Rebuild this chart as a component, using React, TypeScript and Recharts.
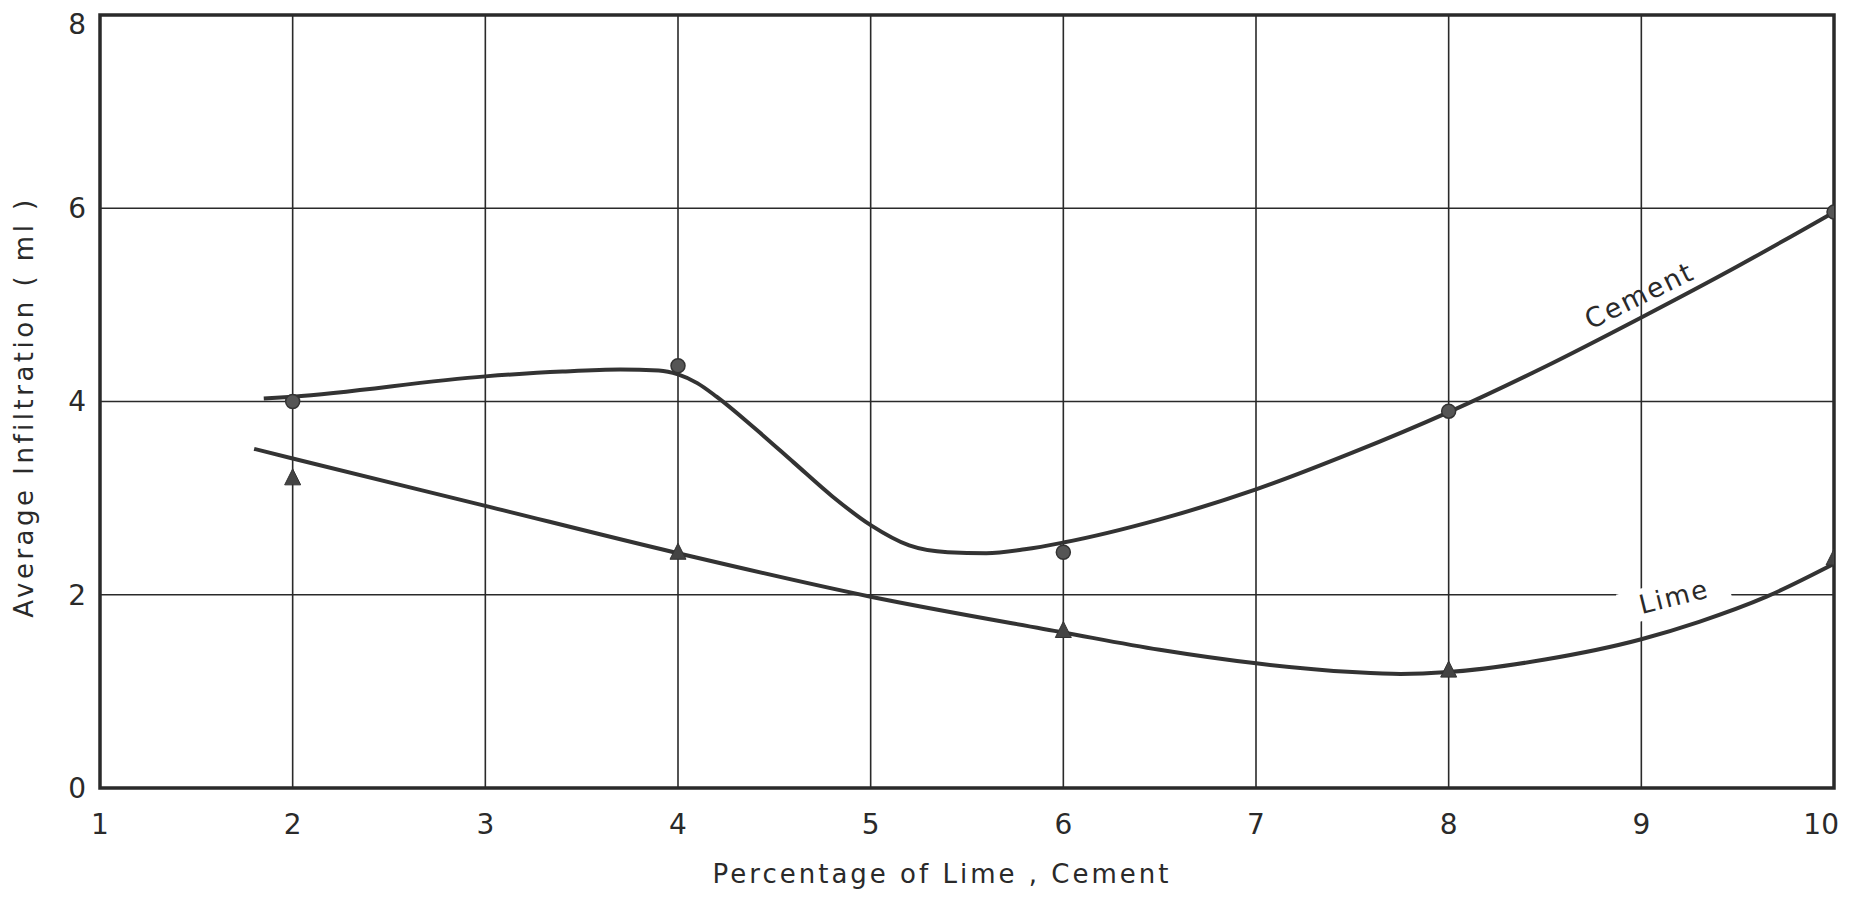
import React from 'react';
import {
  ComposedChart,
  Line,
  Scatter,
  XAxis,
  YAxis,
  CartesianGrid,
  ReferenceArea,
  ReferenceDot,
  Label,
} from 'recharts';

// x ticks and y ticks
const xTicks = [1, 2, 3, 4, 5, 6, 7, 8, 9, 10];
const yTicks = [0, 2, 4, 6, 8];

// measured points
const pctX = [2, 4, 6, 8, 10];
const cementPts = [4.0, 4.37, 2.44, 3.9, 5.96];
const limePts = [3.21, 2.44, 1.63, 1.22, 2.38];

// hand drawn fitted curves
const cementCurveX = [1.85, 2, 3, 3.4, 3.7, 3.9, 4, 4.1, 4.2, 4.4, 4.6, 4.8, 5, 5.2, 5.4, 5.6, 5.8, 6, 6.5, 7, 7.5, 8, 8.5, 9, 9.5, 10];
const cementCurveY = [4.03, 4.05, 4.26, 4.31, 4.33, 4.32, 4.28, 4.19, 4.05, 3.72, 3.37, 3.02, 2.72, 2.51, 2.44, 2.43, 2.47, 2.54, 2.78, 3.09, 3.47, 3.89, 4.36, 4.87, 5.4, 5.96];
const limeCurveX = [1.8, 2, 3, 4, 5, 6, 6.5, 7, 7.5, 7.75, 8, 8.5, 9, 9.3, 9.65, 10];
const limeCurveY = [3.51, 3.41, 2.92, 2.43, 1.98, 1.61, 1.43, 1.29, 1.2, 1.18, 1.2, 1.33, 1.54, 1.72, 1.98, 2.32];

const ink = '#2a2a2a';
const font = '"DejaVu Sans", sans-serif';

const zip = (xs: number[], ys: number[]) => xs.map((x, i) => ({ x, y: ys[i] }));

const cementCurve = zip(cementCurveX, cementCurveY);
const limeCurve = zip(limeCurveX, limeCurveY);
const cementData = zip(pctX, cementPts);
const limeData = zip(pctX, limePts);

const Dot = (p: any) => <circle cx={p.cx} cy={p.cy} r={7} fill="#555" stroke="#333" strokeWidth={1.5} />;

const Tri = (p: any) => (
  <polygon
    points={`${p.cx},${p.cy - 9} ${p.cx - 8},${p.cy + 7} ${p.cx + 8},${p.cy + 7}`}
    fill="#444"
    stroke="#333"
    strokeWidth={1}
  />
);

const curveLabel = (text: string, angle: number, w: number, size: number) => (p: any) => (
  <g transform={`rotate(${angle} ${p.cx} ${p.cy})`}>
    {w > 0 && <rect x={p.cx - w / 2} y={p.cy - 16} width={w} height={32} fill="#fff" />}
    <text
      x={p.cx}
      y={p.cy}
      textAnchor="middle"
      dominantBaseline="central"
      fontFamily={font}
      fontSize={size}
      letterSpacing={2}
      fill={ink}
    >
      {text}
    </text>
  </g>
);

const XTick = (p: any) => {
  const last = p.payload.value === 10;
  return (
    <text
      x={last ? p.x + 5 : p.x}
      y={p.y}
      dy="0.71em"
      textAnchor={last ? 'end' : 'middle'}
      fontFamily={font}
      fontSize={28}
      fill={ink}
    >
      {p.payload.value}
    </text>
  );
};

export default function App() {
  const tickStyle = { fontSize: 28, fill: ink, fontFamily: font };
  return (
    <div style={{ width: 1844, height: 884 }}>
      <ComposedChart width={1844} height={884} margin={{ top: 7, right: 18, left: 0, bottom: 0 }}>
        <CartesianGrid stroke={ink} strokeWidth={1.6} />
        <XAxis
          type="number"
          dataKey="x"
          domain={[1, 10]}
          ticks={xTicks}
          allowDataOverflow
          height={104}
          tickSize={0}
          tickMargin={26}
          tickLine={false}
          axisLine={false}
          tick={XTick}
        >
          <Label
            content={() => (
              <text
                x={934}
                y={866}
                textAnchor="middle"
                dominantBaseline="central"
                fontFamily={font}
                fontSize={26}
                letterSpacing={3}
                fill={ink}
              >
                Percentage of  Lime ,  Cement
              </text>
            )}
          />
        </XAxis>
        <YAxis
          type="number"
          dataKey="y"
          domain={[0, 8]}
          ticks={yTicks}
          width={92}
          tickSize={0}
          tickMargin={14}
          tickLine={false}
          axisLine={false}
          tick={tickStyle}
        >
          <Label
            content={() => (
              <text
                x={16}
                y={399}
                transform="rotate(-90 16 399)"
                textAnchor="middle"
                dominantBaseline="central"
                fontFamily={font}
                fontSize={26}
                letterSpacing={3.5}
                fill={ink}
              >
                Average  Infiltration  ( ml )
              </text>
            )}
          />
        </YAxis>
        <ReferenceArea x1={1} x2={10} y1={0} y2={8} fill="none" stroke={ink} strokeWidth={3.5} ifOverflow="visible" />
        <ReferenceDot x={9.17} y={1.98} r={0} ifOverflow="visible" shape={curveLabel('Lime', -14, 112, 26)} />
        <ReferenceDot x={8.99} y={5.1} r={0} ifOverflow="visible" shape={curveLabel('Cement', -26, 0, 27)} />
        <Line
          data={cementCurve}
          dataKey="y"
          type="monotone"
          stroke="#333"
          strokeWidth={4}
          dot={false}
          activeDot={false}
          isAnimationActive={false}
        />
        <Line
          data={limeCurve}
          dataKey="y"
          type="monotone"
          stroke="#333"
          strokeWidth={4}
          dot={false}
          activeDot={false}
          isAnimationActive={false}
        />
        <Scatter data={cementData} dataKey="y" shape={Dot} isAnimationActive={false} />
        <Scatter data={limeData} dataKey="y" shape={Tri} isAnimationActive={false} />
      </ComposedChart>
    </div>
  );
}
